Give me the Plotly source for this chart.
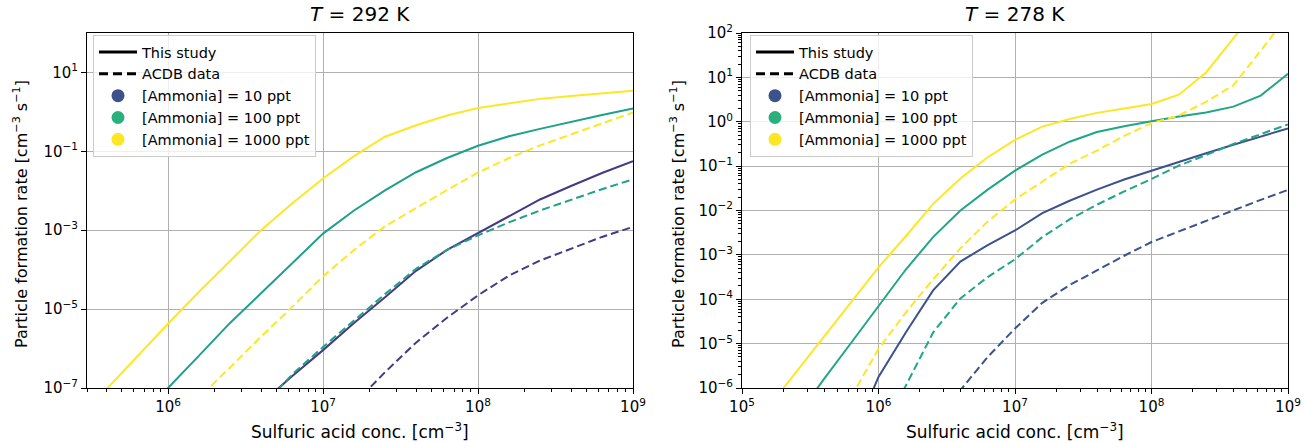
import numpy as np
import plotly.graph_objects as go

# ---------------- data ----------------
# Sulfuric acid concentration grid [cm^-3]
conc = [1.000e5, 1.585e5, 2.512e5, 3.981e5, 6.310e5,
        1.000e6, 1.585e6, 2.512e6, 3.981e6, 6.310e6,
        1.000e7, 1.585e7, 2.512e7, 3.981e7, 6.310e7,
        1.000e8, 1.585e8, 2.512e8, 3.981e8, 6.310e8,
        1.000e9]
N = None
# log10 of particle formation rate [cm^-3 s^-1], T = 292 K
t292_study_10   = [N, N, N, N, N, N, N, N, -7.40, -6.70, -6.04, -5.35, -4.70, -4.03, -3.50, -3.07, -2.65, -2.22, -1.88, -1.55, -1.25]
t292_study_100  = [N, N, N, N, -7.85, -7.00, -6.18, -5.35, -4.60, -3.85, -3.085, -2.50, -1.99, -1.53, -1.17, -0.86, -0.62, -0.43, -0.25, -0.08, 0.087]
t292_study_1000 = [N, N, -7.88, -7.04, -6.20, -5.37, -4.56, -3.78, -3.00, -2.32, -1.69, -1.12, -0.63, -0.34, -0.09, 0.10, 0.22, 0.33, 0.40, 0.46, 0.535]
t292_acdb_10    = [N, N, N, N, N, N, N, N, N, N, N, -7.40, -6.60, -5.85, -5.22, -4.65, -4.15, -3.77, -3.46, -3.17, -2.915]
t292_acdb_100   = [N, N, N, N, N, N, N, N, -7.50, -6.66, -5.96, -5.28, -4.62, -3.98, -3.50, -3.13, -2.80, -2.50, -2.22, -1.96, -1.71]
t292_acdb_1000  = [N, N, N, N, N, -8.00, -7.25, -6.48, -5.70, -4.95, -4.17, -3.50, -2.90, -2.43, -1.98, -1.54, -1.17, -0.85, -0.57, -0.29, -0.015]
# T = 278 K
t278_study_10   = [N, N, N, N, -7.20, -5.75, -4.75, -3.80, -3.15, -2.78, -2.45, -2.06, -1.78, -1.53, -1.30, -1.10, -0.90, -0.71, -0.52, -0.33, -0.15]
t278_study_100  = [N, N, -6.65, -5.80, -4.98, -4.15, -3.33, -2.60, -2.00, -1.53, -1.10, -0.74, -0.45, -0.23, -0.10, 0.01, 0.12, 0.21, 0.34, 0.59, 1.08]
t278_study_1000 = [N, -6.41, -5.63, -4.84, -4.06, -3.28, -2.58, -1.85, -1.28, -0.80, -0.41, -0.11, 0.06, 0.20, 0.30, 0.40, 0.61, 1.11, 1.88, 2.66, 3.40]
t278_acdb_10    = [N, N, N, N, N, N, N, -7.00, -6.05, -5.30, -4.66, -4.08, -3.68, -3.35, -3.02, -2.71, -2.47, -2.23, -2.00, -1.76, -1.535]
t278_acdb_100   = [N, N, N, N, N, -7.00, -5.95, -4.75, -3.98, -3.50, -3.10, -2.60, -2.20, -1.87, -1.57, -1.29, -0.99, -0.75, -0.50, -0.28, -0.06]
t278_acdb_1000  = [N, N, N, N, -6.20, -5.12, -4.30, -3.55, -2.85, -2.25, -1.75, -1.35, -0.95, -0.65, -0.32, -0.03, 0.14, 0.45, 0.82, 1.60, 2.40]

ammonia_labels = ["[Ammonia] = 10 ppt", "[Ammonia] = 100 ppt", "[Ammonia] = 1000 ppt"]
titles = ["<i>T</i> = 292 K", "<i>T</i> = 278 K"]
x_tick_vals_left = [1e6, 1e7, 1e8, 1e9]
x_tick_text_left = ["10<sup>6</sup>", "10<sup>7</sup>", "10<sup>8</sup>", "10<sup>9</sup>"]
x_tick_vals_right = [1e5, 1e6, 1e7, 1e8, 1e9]
x_tick_text_right = ["10<sup>5</sup>", "10<sup>6</sup>", "10<sup>7</sup>", "10<sup>8</sup>", "10<sup>9</sup>"]
y_tick_vals_left = [1e-7, 1e-5, 1e-3, 1e-1, 1e1]
y_tick_text_left = ["10<sup>−7</sup>", "10<sup>−5</sup>", "10<sup>−3</sup>", "10<sup>−1</sup>", "10<sup>1</sup>"]
y_tick_vals_right = [1e-6, 1e-5, 1e-4, 1e-3, 1e-2, 1e-1, 1e0, 1e1, 1e2]
y_tick_text_right = ["10<sup>−6</sup>", "10<sup>−5</sup>", "10<sup>−4</sup>", "10<sup>−3</sup>",
                     "10<sup>−2</sup>", "10<sup>−1</sup>", "10<sup>0</sup>", "10<sup>1</sup>", "10<sup>2</sup>"]

# ---------------- styling ----------------
W, H = 1304, 442
FONT = "DejaVu Sans"
col_left = ["#443983", "#1fa187", "#fde725"]
col_right = ["#3b528b", "#21a685", "#fde725"]
col_legend = ["#3b528b", "#2ab07f", "#fde725"]
DASH = "8px,4px"


def J(logs):
    return [None if v is None else 10.0 ** v for v in logs]


fig = go.Figure()

panels = [
    ("x", "y", col_left, [t292_study_10, t292_study_100, t292_study_1000],
     [t292_acdb_10, t292_acdb_100, t292_acdb_1000], "legend"),
    ("x2", "y2", col_right, [t278_study_10, t278_study_100, t278_study_1000],
     [t278_acdb_10, t278_acdb_100, t278_acdb_1000], "legend2"),
]

for xa, ya, cols, study, acdb, leg in panels:
    for i in range(3):
        fig.add_trace(go.Scatter(x=conc, y=J(study[i]), mode="lines", xaxis=xa, yaxis=ya,
                                 line=dict(color=cols[i], width=2), showlegend=False,
                                 hoverinfo="skip"))
        fig.add_trace(go.Scatter(x=conc, y=J(acdb[i]), mode="lines", xaxis=xa, yaxis=ya,
                                 line=dict(color=cols[i], width=2, dash=DASH), showlegend=False,
                                 hoverinfo="skip"))
    # legend entries
    fig.add_trace(go.Scatter(x=[None], y=[None], mode="lines", xaxis=xa, yaxis=ya, legend=leg,
                             name="This study", line=dict(color="black", width=3)))
    fig.add_trace(go.Scatter(x=[None], y=[None], mode="lines", xaxis=xa, yaxis=ya, legend=leg,
                             name="ACDB data", line=dict(color="black", width=3, dash="9px,5px")))
    for i in range(3):
        fig.add_trace(go.Scatter(x=[None], y=[None], mode="markers", xaxis=xa, yaxis=ya, legend=leg,
                                 name=ammonia_labels[i],
                                 marker=dict(color=col_legend[i], size=13, symbol="circle")))


def minor_vals(lo, hi):
    v = []
    for d in range(lo, hi):
        for m in range(2, 10):
            v.append(m * 10.0 ** d)
    return v


common = dict(type="log", showline=True, mirror=True, linecolor="black", linewidth=1,
              ticks="outside", ticklen=5, tickwidth=1, tickcolor="black",
              showgrid=True, gridcolor="#b0b0b0", gridwidth=1, zeroline=False,
              tickfont=dict(family=FONT, size=15, color="black"), tickmode="array",
              automargin=False)

x1d = [87 / W, 633 / W]
x2d = [742 / W, 1288 / W]
yd = [54 / H, 409 / H]

legend_common = dict(yanchor="top", xanchor="left", y=1 - 35 / H,
                     bgcolor="rgba(255,255,255,0.8)", bordercolor="#cccccc", borderwidth=1,
                     font=dict(family=FONT, size=14.5, color="black"), itemwidth=38)

fig.update_layout(
    width=W, height=H, autosize=False,
    margin=dict(l=0, r=0, t=0, b=0, pad=0, autoexpand=False),
    paper_bgcolor="white", plot_bgcolor="white",
    font=dict(family=FONT, color="black"),
    xaxis=dict(domain=x1d, anchor="y", range=[np.log10(3e5), 9],
               tickvals=x_tick_vals_left, ticktext=x_tick_text_left,
               minor=dict(tickvals=minor_vals(5, 9), ticks="outside", ticklen=3, tickwidth=1,
                          tickcolor="black", showgrid=False), **common),
    yaxis=dict(domain=yd, anchor="x", range=[-7, 2],
               tickvals=y_tick_vals_left, ticktext=y_tick_text_left, **common),
    xaxis2=dict(domain=x2d, anchor="y2", range=[5, 9],
                tickvals=x_tick_vals_right, ticktext=x_tick_text_right,
                minor=dict(tickvals=minor_vals(5, 9), ticks="outside", ticklen=3, tickwidth=1,
                           tickcolor="black", showgrid=False), **common),
    yaxis2=dict(domain=yd, anchor="x2", range=[-6, 2],
                tickvals=y_tick_vals_right, ticktext=y_tick_text_right,
                minor=dict(tickvals=minor_vals(-6, 2), ticks="outside", ticklen=3, tickwidth=1,
                           tickcolor="black", showgrid=False), **common),
    legend=dict(x=93 / W, **legend_common),
    legend2=dict(x=750 / W, **legend_common),
)

annos = []
for (d, t) in [(x1d, titles[0]), (x2d, titles[1])]:
    cx = (d[0] + d[1]) / 2
    annos.append(dict(text=t, x=cx, y=1 - 14 / H, xref="paper", yref="paper",
                      xanchor="center", yanchor="middle", showarrow=False,
                      font=dict(family=FONT, size=20, color="black")))
    annos.append(dict(text="Sulfuric acid conc. [cm<sup>−3</sup>]", x=cx, y=1 - 431 / H,
                      xref="paper", yref="paper", xanchor="center", yanchor="middle",
                      showarrow=False, font=dict(family=FONT, size=17, color="black")))
for xc in [20 / W, 677 / W]:
    annos.append(dict(text="Particle formation rate [cm<sup>−3</sup> s<sup>−1</sup>]",
                      x=xc, y=1 - 214 / H, xref="paper", yref="paper", textangle=-90,
                      xanchor="center", yanchor="middle", showarrow=False,
                      font=dict(family=FONT, size=16, color="black")))
fig.update_layout(annotations=annos)

fig.write_html("out.html")
